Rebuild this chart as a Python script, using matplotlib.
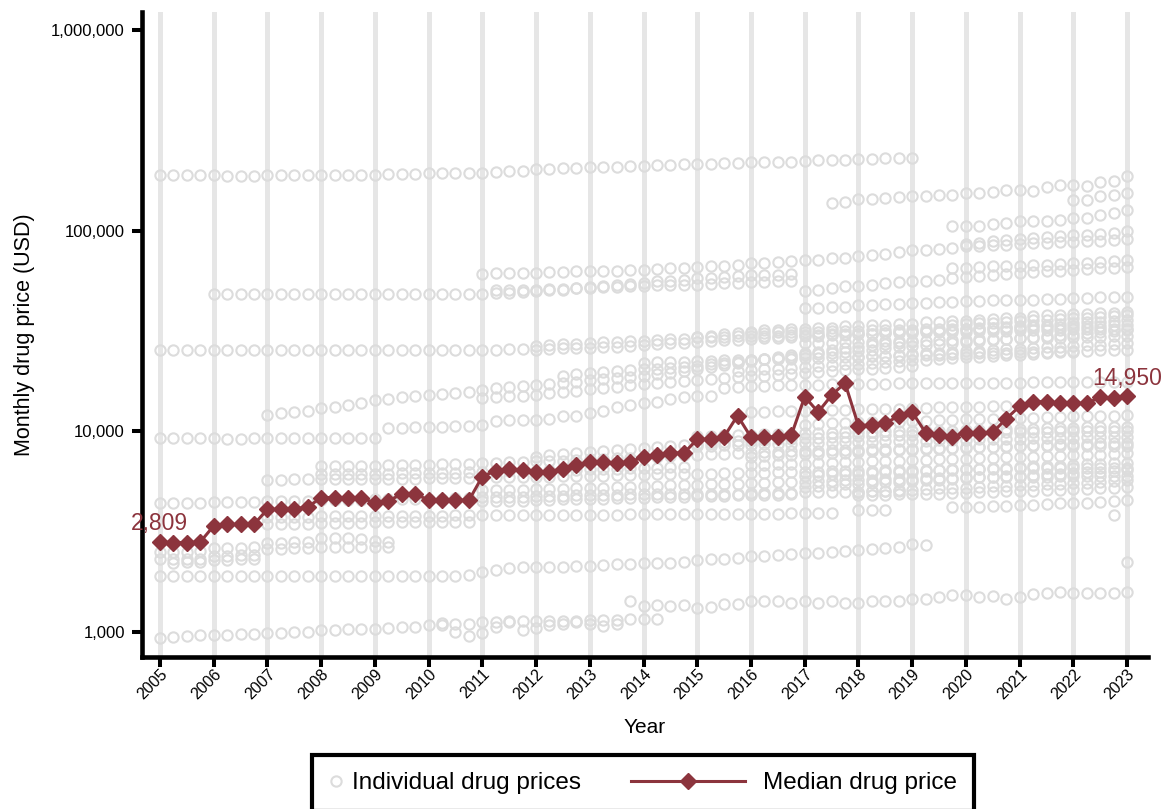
import numpy as np
import matplotlib
matplotlib.use("Agg")
import matplotlib.pyplot as plt
from matplotlib.lines import Line2D
from matplotlib.legend_handler import HandlerLine2D
from matplotlib.ticker import FixedLocator, FuncFormatter, NullLocator

plt.rcParams['font.family'] = ['Liberation Sans', 'DejaVu Sans']

# ---------------------------------------------------------------- data
years = list(range(2005, 2024))
quarters = np.arange(2005.0, 2023.01, 0.25)

# median monthly price across drugs on the market, per quarter (USD)
median_price = [2809, 2790, 2790, 2809,
                3380, 3440, 3440, 3440,
                4090, 4090, 4120, 4190,
                4680, 4680, 4680, 4680,
                4385, 4500, 4875, 4875,
                4550, 4550, 4550, 4530,
                5960, 6375, 6475, 6430,
                6300, 6300, 6525, 6775,
                7060, 7030, 6980, 7030,
                7485, 7635, 7840, 7785,
                9143, 9143, 9422, 11990,
                9357, 9357, 9422, 9560,
                14900, 12500, 15150, 17450,
                10680, 10780, 10990, 11950,
                12500, 9860, 9650, 9420,
                9860, 9860, 9900, 11570,
                13350, 14080, 14080, 13820,
                13820, 13820, 14810, 14640,
                14950]

# individual drugs: monthly price (thousand USD) for consecutive quarters
drug_01 = [190, 190, 190, 190, 190, 189, 189, 189, 190, 190, 190, 190, 191, 191, 191, 191,
           191, 192, 193, 193, 194, 194, 194, 194, 195, 197, 199, 200, 203, 204, 205, 206,
           208, 209, 209, 210, 212, 213, 214, 215, 216, 217, 218, 219, 220, 221, 222, 222,
           224, 225, 226, 226, 228, 229, 230, 230, 231]
drug_02 = [138, 139, 145, 145, 146, 148, 150, 150, 151, 152, 154, 155, 157, 160, 160, 158,
           166, 170, 170, 168, 176, 178, 187]
drug_03 = [106, 106, 106, 108, 109, 112, 112, 112, 113, 116, 116, 120, 123, 127]
drug_04 = [143, 143, 149, 151, 155]
drug_05 = [86, 87, 89, 90, 91, 92, 93, 94, 95, 96, 97, 98, 100]
drug_06 = [61, 61.5, 62, 62, 62, 62.5, 62.5, 63, 63, 63, 63.5, 64, 64, 64.5, 65, 65.5,
           66, 66.5, 67, 68, 69, 69.5, 70, 70.5, 71.5, 72, 73, 73.5, 75, 76, 77, 78.5,
           80, 80.5, 81, 82, 84, 84.5, 85, 85.5, 86, 87, 87.5, 88, 88.5, 89, 89.5, 90, 91]
drug_07 = [48.5, 48.5, 48.5, 48.5, 48.5, 48.7, 48.7, 48.5, 48.5, 48.5, 48.5, 48.5,
           48.5, 48.5, 48.5, 48.5, 48.5, 48.5, 48.5, 48.5, 48.5, 49, 49, 49.5,
           50, 50.5, 51, 52, 52.5, 53, 54, 54.5, 55, 56, 56.5, 57, 58, 58.5, 59, 59.5,
           60, 60, 60.5, 61]
drug_08 = [51, 51, 51, 51, 51.5, 51.5, 52, 52, 52.5, 52.5, 53, 53, 53.5, 53.5, 54,
           54, 54.5, 55, 55, 55.5, 55.5, 56, 56]
drug_09 = [50, 51, 52, 53, 53, 54, 55, 55.5, 56, 56.5, 57, 58, 59, 59.5, 60, 61,
           62, 62.5, 63, 63.5, 64, 64.5, 65, 65.5, 66]
drug_10 = [65, 65.5, 66, 66.5, 67, 67, 67.5, 68, 68.5, 69, 69.5, 70, 71, 72]
drug_11 = [41.5, 41.5, 42, 42, 42.5, 42.5, 43, 43, 43.5, 43.5, 44, 44, 44.5, 44.5, 45, 45,
           45.5, 45.5, 46, 46, 46.5, 46.5, 47, 47, 47]
drug_12 = [25.5, 25.5, 25.5, 25.5, 25.5, 25.5, 25.5, 25.5, 25.5, 25.5, 25.5, 25.5,
           25.5, 25.5, 25.5, 25.5, 25.5, 25.5, 25.5, 25.5, 25.5, 25.5, 25.5, 25.5,
           25.5, 25.5, 25.7, 25.7, 25.5, 25.8, 26, 26, 26.2, 26.5, 26.5, 26.8,
           27, 27.2, 27.5, 27.5, 28, 28.2, 28.5, 28.5, 29, 29.2, 29.4, 29.6,
           29.8, 30, 30.2, 30.4, 30.6, 30.8, 31, 31.2, 31.4, 31.6, 31.8, 32,
           32.3, 32.6, 32.9, 33.2, 33.5, 33.8, 34.1, 34.4, 34.7, 35, 35.3, 35.6, 36]
drug_13 = [26.8, 27, 27.2, 27.4, 27.6, 27.8, 28, 28.2, 28.4, 28.6, 28.8, 29,
           29.5, 30, 30.5, 31, 31.5, 32, 32, 32.5, 32.5, 33, 33, 33.5, 33.5, 34, 34, 34.5,
           34.5, 35, 35, 35.5, 35.5, 36, 36.5, 37, 37, 37.5, 38, 38, 38.5, 38.5, 39, 39, 39.5]
drug_14 = [22, 22.1, 22.2, 22.3, 22.4, 22.5, 22.6, 22.7, 22.8, 22.9, 23, 23.1,
           23.2, 23.3, 23.4, 23.5, 23.6, 23.7, 23.8, 23.9, 24, 24.1, 24.2, 24.3,
           24.4, 24.5, 24.6, 24.7, 24.8, 24.9, 25, 25.1, 25.2, 25.3, 25.4, 25.5, 25.5]
drug_15 = [29.5, 29.6, 29.7, 29.8, 29.9, 30, 30.1, 30.2, 30.3, 30.4, 30.5, 30.6,
           30.7, 30.8, 30.9, 31, 31.1, 31.2, 31.3, 31.4, 31.5, 31.6, 31.7, 31.8,
           31.9, 32, 32.1, 32.2, 32.3, 32.4, 32.4, 32.5, 32.5]
drug_16 = [20, 20.2, 20.4, 20.6, 20.8, 21, 21.2, 21.4, 21.6, 21.8, 22, 22.2, 22.4,
           22.6, 22.8, 23, 23.2, 23.4, 23.6, 23.8, 24, 24.2, 24.4, 24.6, 24.8, 25]
drug_17 = [31, 31.1, 31.2, 31.3, 31.4, 31.5, 31.6, 31.7, 31.8, 31.9, 32, 32.1,
           32.2, 32.3, 32.4, 32.5, 32.6, 32.7, 32.8, 32.9, 33, 33.1, 33.2, 33.3,
           33.4, 33.5, 33.6, 33.8, 34]
drug_18 = [27.5, 27.6, 27.7, 27.8, 27.9, 28, 28.1, 28.2, 28.3, 28.4, 28.5, 28.6,
           28.7, 28.8, 28.9, 29, 29.1, 29.2, 29.3, 29.4, 29.5, 29.6, 29.7, 29.8, 30]
drug_19 = [23.5, 23.7, 23.9, 24.1, 24.3, 24.5, 24.7, 24.9, 25.1, 25.3, 25.5, 25.7,
           25.9, 26.1, 26.3, 26.5, 26.7, 26.9, 27.1, 27.3, 27.5]
drug_20 = [34, 34.3, 34.6, 34.9, 35.2, 35.5, 35.8, 36.1, 36.4, 36.7, 37, 37.3, 37.6, 38]
drug_21 = [12.1, 12.3, 12.5, 12.7, 13.1, 13.3, 13.5, 13.8, 14.4, 14.6, 14.8, 15,
           15.2, 15.4, 15.6, 15.8, 16.1, 16.4, 16.6, 16.8, 17.1, 17.3, 17.5, 17.7,
           18, 18.2, 18.4, 18.7, 19, 19.3, 19.6, 20, 20.5, 21, 21.5, 22, 22.5, 23, 23.5, 24,
           24.5, 25, 25.5, 26, 26.5, 27, 27.3, 27.6, 28]
drug_22 = [14.7, 14.9, 15, 15.1, 15.2, 15.5, 15.8, 16, 16.2, 16.5, 16.7, 17,
           17.2, 17.4, 17.6, 17.8, 18, 18.2, 18.4, 18.6, 18.8, 19, 19.2, 19.4,
           19.6, 19.8, 20, 20.2, 20.4, 20.6, 20.8, 21, 21.2]
drug_23 = [19, 19.3, 19.6, 19.8, 20, 20.2, 20.4, 20.6, 20.8, 21, 21.3, 21.6, 22, 22.3,
           22.6, 23, 23.3, 23.6, 24, 24.3, 24.6, 25, 25.3, 25.6, 26, 26.3, 26.6, 27,
           27.3, 27.6, 28, 28.3, 28.6, 29, 29.3, 29.6, 30, 30.3, 30.6, 31, 31.3, 31.6, 32]
drug_24 = [9.25, 9.25, 9.25, 9.25, 9.25, 9.2, 9.2, 9.25, 9.25, 9.25, 9.3, 9.3,
           9.3, 9.3, 9.3, 9.3, 9.3, 10.4, 10.4, 10.5, 10.5, 10.5, 10.6, 10.6,
           10.8, 11.3, 11.4, 11.4, 11.4, 11.5, 11.9, 12, 12.4, 12.6, 13.3, 13.5,
           13.8, 14.1, 14.6, 14.8, 15, 15, 16.5, 16.6, 16.8, 16.9, 17, 17,
           17.1, 17.1, 17.2, 17.2, 17.3, 17.3, 17.3, 17.4, 17.4, 17.4, 17.4, 17.5,
           17.5, 17.5, 17.5, 17.5, 17.5, 17.6, 17.6, 17.6, 17.6, 17.6, 17.7, 17.7, 17.7]
drug_25 = [12.5, 12.5, 12.6, 12.6, 12.7, 12.7, 12.8, 12.8, 12.9, 12.9, 13, 13,
           13.1, 13.1, 13.2, 13.2, 13.3, 13.3, 13.4, 13.4]
drug_26 = [10.8, 10.9, 11, 11, 11.1, 11.1, 11.2, 11.2, 11.3, 11.3, 11.4, 11.4,
           11.5, 11.5, 11.6, 11.6, 11.7, 11.7, 11.8, 11.8, 11.9, 11.9, 12, 12, 12.1]
drug_27 = [9.5, 9.5, 9.6, 9.6, 9.6, 9.7, 9.7, 9.7, 9.8, 9.8, 9.8, 9.9, 9.9, 9.9, 10, 10,
           10, 10.1, 10.1, 10.1, 10.2, 10.2, 10.2, 10.3, 10.3, 10.3, 10.4, 10.4,
           10.4, 10.5, 10.5, 10.5, 10.5]
drug_28 = [8.5, 8.5, 8.55, 8.6, 8.6, 8.65, 8.7, 8.7, 8.75, 8.8, 8.8, 8.85, 8.9, 8.9, 8.95, 9,
           9, 9, 9.05, 9.1, 9.1, 9.15, 9.2, 9.2, 9.2, 9.25, 9.3, 9.3, 9.3, 9.35, 9.4, 9.4, 9.4]
drug_29 = [7.5, 7.55, 7.6, 7.65, 7.7, 7.75, 7.8, 7.85, 7.9, 7.95, 8, 8.05, 8.1, 8.15, 8.2,
           8.25, 8.3, 8.35, 8.4, 8.45, 8.5, 8.55, 8.6, 8.62, 8.65, 8.7, 8.72, 8.75, 8.8]
drug_30 = [6.8, 6.82, 6.85, 6.9, 6.92, 6.95, 7, 7.02, 7.05, 7.1, 7.12, 7.15, 7.2, 7.22,
           7.25, 7.3, 7.32, 7.35, 7.4, 7.42, 7.45, 7.5, 7.52, 7.55, 7.6, 7.62, 7.65, 7.7, 7.8]
drug_31 = [6, 6.05, 6.1, 6.1, 6.15, 6.2, 6.25, 6.3, 6.3, 6.35, 6.4, 6.45, 6.5, 6.5,
           6.55, 6.6, 6.65, 6.7, 6.7, 6.75, 6.8, 6.85, 6.9, 6.95, 7]
drug_32 = [5.3, 5.35, 5.4, 5.45, 5.5, 5.55, 5.6, 5.6, 5.65, 5.7, 5.75, 5.8, 5.85, 5.9,
           5.95, 6, 6, 6.05, 6.1, 6.15, 6.2, 6.25, 6.3, 6.35, 6.4]
drug_33 = [5, 5.02, 5.05, 5.1, 5.12, 5.15, 5.2, 5.22, 5.25, 5.3, 5.32, 5.35, 5.4, 5.42,
           5.45, 5.5, 5.52, 5.55, 5.6, 5.65, 5.7]
drug_34 = [4.8, 4.8, 4.82, 4.85, 4.85, 4.88, 4.9, 4.92, 4.95, 4.97, 5, 5.02, 5.05, 5.07,
           5.1, 5.12, 5.15, 5.18, 5.2, 5.25, 5.3]
drug_35 = [4.2, 4.2, 4.22, 4.25, 4.27, 4.3, 4.32, 4.35, 4.38, 4.4, 4.42, 4.45, 4.5, 4.55]
drug_36 = [3.83]
drug_37 = [4.06, 4.06, 4.06]
drug_38 = [4.4, 4.4, 4.4, 4.4, 4.45, 4.45, 4.45, 4.45, 4.5, 4.5, 4.5, 4.5,
           4.55, 4.55, 4.55, 4.55, 4.6, 4.6, 4.6, 4.6, 4.6, 4.6, 4.65, 4.65,
           4.7, 4.7, 4.7, 4.7, 4.75, 4.75, 4.75, 4.8, 4.8, 4.8, 4.8, 4.85,
           4.85, 4.85, 4.85, 4.9, 4.9, 4.9, 4.9, 4.9, 4.95, 4.95, 4.95, 4.95,
           5, 5, 5, 5, 5, 5.05, 5.05, 5.05]
drug_39 = [3.75, 3.75, 3.76, 3.76, 3.77, 3.77, 3.78, 3.78, 3.78, 3.79, 3.79, 3.8,
           3.8, 3.8, 3.81, 3.81, 3.82, 3.82, 3.82, 3.83, 3.83, 3.83, 3.84, 3.84,
           3.85, 3.85, 3.85, 3.86, 3.86, 3.86, 3.87, 3.87, 3.87, 3.88, 3.88, 3.88,
           3.89, 3.89, 3.89, 3.9, 3.9, 3.9, 3.9]
drug_40 = [2.809, 2.79, 2.79, 2.809, 3.38, 3.44, 3.44, 3.44, 3.45, 3.45, 3.47, 3.47,
           3.5, 3.5, 3.5, 3.5, 3.52, 3.52, 3.52, 3.52, 3.55, 3.55, 3.55, 3.55]
drug_41 = [2.5, 2.5, 2.5, 2.52, 2.62, 2.62, 2.62, 2.65, 2.78, 2.78, 2.8, 2.8,
           2.95, 2.95, 2.95, 2.92, 2.85, 2.82]
drug_42 = [2.3, 2.3, 2.32, 2.32, 2.4, 2.4, 2.42, 2.42, 2.6, 2.6, 2.62, 2.62,
           2.65, 2.65, 2.65, 2.66, 2.66, 2.66]
drug_43 = [2.22, 2.24, 2.24, 2.28, 2.28, 2.3, 2.3]
drug_44 = [1.9, 1.9, 1.9, 1.9, 1.9, 1.9, 1.9, 1.9, 1.91, 1.91, 1.91, 1.91,
           1.9, 1.9, 1.9, 1.9, 1.9, 1.9, 1.9, 1.9, 1.9, 1.9, 1.9, 1.92,
           2.0, 2.04, 2.08, 2.1, 2.1, 2.12, 2.12, 2.14, 2.14, 2.16, 2.18, 2.18,
           2.2, 2.2, 2.22, 2.24, 2.29, 2.3, 2.32, 2.34, 2.39, 2.4, 2.42, 2.44,
           2.47, 2.48, 2.5, 2.52, 2.57, 2.6, 2.62, 2.66, 2.75, 2.72]
drug_45 = [0.935, 0.94, 0.95, 0.96, 0.97, 0.97, 0.98, 0.98, 0.99, 0.99, 1.0, 1.0,
           1.02, 1.02, 1.03, 1.03, 1.04, 1.05, 1.06, 1.06, 1.08, 1.08, 1.09, 1.1,
           1.12, 1.12, 1.13, 1.13, 1.13, 1.14, 1.14, 1.14, 1.15, 1.15, 1.15, 1.16,
           1.16, 1.16]
drug_46 = [1.11, 1.0, 0.95, 0.99, 1.06, 1.12, 1.02, 1.05, 1.08, 1.1, 1.12, 1.1, 1.07, 1.09]
drug_47 = [1.42, 1.34, 1.36, 1.34, 1.36, 1.31, 1.33, 1.38, 1.38, 1.42, 1.42, 1.42, 1.4,
           1.42, 1.4, 1.42, 1.4, 1.4, 1.43, 1.42, 1.43, 1.46, 1.46, 1.49, 1.53,
           1.53, 1.49, 1.51, 1.46, 1.49, 1.55, 1.56, 1.59, 1.57, 1.57, 1.56, 1.57, 1.59]
drug_48 = [2.24]
drug_49 = [5.75, 5.75, 5.76, 5.76, 5.77, 5.77, 5.78, 5.78, 5.8, 5.8, 5.82, 5.82,
           5.84, 5.85, 5.86, 5.87, 5.88, 5.9, 5.92, 5.93, 5.95, 5.96, 5.98, 6.0,
           6.02, 6.03, 6.05, 6.07, 6.08, 6.1, 6.12, 6.14, 6.15, 6.17, 6.19, 6.2,
           6.22, 6.24, 6.26, 6.28, 6.3, 6.31, 6.33, 6.35, 6.36, 6.38, 6.4, 6.41,
           6.43, 6.44, 6.46, 6.48, 6.5, 6.51, 6.52, 6.53, 6.54, 6.55, 6.56, 6.57,
           6.58, 6.59, 6.6, 6.6, 6.6]
drug_50 = [6.7, 6.7, 6.72, 6.74, 6.76, 6.78, 6.8, 6.82, 6.84, 6.86, 6.88, 6.9,
           6.95, 7, 7.02, 7.05, 7.1, 7.12, 7.15, 7.2, 7.25, 7.3, 7.35, 7.4,
           7.45, 7.5, 7.55, 7.6, 7.65, 7.7, 7.75, 7.8, 7.85, 7.9, 7.92, 7.95,
           8, 8.02, 8.05, 8.1, 8.12, 8.15, 8.18, 8.2, 8.22, 8.25, 8.28, 8.3,
           8.32, 8.35, 8.38, 8.4, 8.42, 8.44, 8.45, 8.46, 8.47, 8.48, 8.49, 8.5, 8.5]
drug_51 = [6.1, 6.1, 6.12, 6.12, 6.15, 6.15, 6.18, 6.18, 6.2, 6.2, 6.22, 6.25,
           6.3, 6.3, 6.32, 6.35, 6.38, 6.4, 6.42, 6.45, 6.48, 6.5, 6.52, 6.55,
           6.58, 6.6, 6.62, 6.65]
drug_52 = [5.1, 5.1, 5.12, 5.12, 5.15, 5.15, 5.18, 5.2, 5.22, 5.25, 5.28, 5.3,
           5.32, 5.35, 5.38, 5.4, 5.42, 5.45, 5.48, 5.5, 5.52, 5.55, 5.58, 5.6,
           5.62, 5.65, 5.68, 5.7, 5.72, 5.75, 5.78, 5.8, 5.82, 5.84, 5.86, 5.88,
           5.9, 5.91, 5.92, 5.93, 5.94, 5.95, 5.96, 5.97, 5.98, 5.99, 6, 6, 6]
drug_53 = [4.5, 4.5, 4.52, 4.52, 4.55, 4.55, 4.58, 4.6, 4.6, 4.62, 4.65, 4.65,
           4.68, 4.7, 4.7, 4.72, 4.75, 4.75, 4.78, 4.8, 4.8, 4.82, 4.82, 4.85]
drug_54 = [7.5, 7.6, 7.7, 7.8, 7.9, 8, 8.1, 8.2, 8.3, 8.4, 8.5, 8.6, 8.7, 8.8, 8.9, 9,
           9, 9.1, 9.2, 9.2, 9.3, 9.3, 9.4, 9.4, 9.5, 9.5, 9.6, 9.6, 9.6, 9.7, 9.7, 9.7,
           9.8, 9.8, 9.8, 9.9, 9.9, 9.9, 9.9, 10, 10, 10, 10, 10, 10]

# first quarter on the market for each drug
drug_series = [
    (2005.0, drug_01), (2017.5, drug_02), (2019.75, drug_03), (2022.0, drug_04),
    (2020.0, drug_05), (2011.0, drug_06), (2006.0, drug_07), (2011.25, drug_08),
    (2017.0, drug_09), (2019.75, drug_10), (2017.0, drug_11), (2005.0, drug_12),
    (2012.0, drug_13), (2014.0, drug_14), (2015.0, drug_15), (2015.75, drug_16),
    (2016.0, drug_17), (2017.0, drug_18), (2018.0, drug_19), (2019.75, drug_20),
    (2007.0, drug_21), (2011.0, drug_22), (2012.5, drug_23), (2005.0, drug_24),
    (2016.0, drug_25), (2017.0, drug_26), (2015.0, drug_27), (2015.0, drug_28),
    (2016.0, drug_29), (2016.0, drug_30), (2017.0, drug_31), (2017.0, drug_32),
    (2018.0, drug_33), (2018.0, drug_34), (2019.75, drug_35), (2022.75, drug_36),
    (2018.0, drug_37), (2005.0, drug_38), (2007.0, drug_39), (2005.0, drug_40),
    (2005.0, drug_41), (2005.0, drug_42), (2005.25, drug_43), (2005.0, drug_44),
    (2005.0, drug_45), (2010.25, drug_46), (2013.75, drug_47), (2023.0, drug_48),
    (2007.0, drug_49), (2008.0, drug_50), (2008.0, drug_51), (2011.0, drug_52),
    (2011.0, drug_53), (2012.0, drug_54),
]

# ---------------------------------------------------------------- style
RED = '#8C343D'
DOT = '#DCDCDC'
GRID = '#E6E6E6'


class MedianKeyHandler(HandlerLine2D):
    """Legend key: a long line with a single diamond in its middle."""

    def create_artists(self, legend, orig_handle, xdescent, ydescent,
                       width, height, fontsize, trans):
        y = height / 2 - ydescent
        x0 = -xdescent - 4.48 * fontsize
        x1 = -xdescent + 0.21 * fontsize
        line = Line2D([x0, x1], [y, y])
        self.update_prop(line, orig_handle, legend)
        line.set_marker('None')
        mark = Line2D([(x0 + x1) / 2], [y])
        self.update_prop(mark, orig_handle, legend)
        mark.set_linestyle('None')
        line.set_transform(trans)
        mark.set_transform(trans)
        return [line, mark]


fig = plt.figure(figsize=(11.64, 8.09), dpi=100)
ax = fig.add_axes([0.1217, 0.1879, 0.8646, 0.7973])

# individual drug prices
xs, ys = [], []
for start, prices in drug_series:
    for i, p in enumerate(prices):
        xs.append(start + 0.25 * i)
        ys.append(p * 1000)
ax.plot(xs, ys, linestyle='none', marker='o', ms=7.4, mfc='none',
        mec=DOT, mew=1.5, zorder=2)

# median line
ax.plot(quarters, median_price, color=RED, lw=2.2, marker='D', ms=7.8,
        mec=RED, mfc=RED, zorder=3)

for idx in (0, len(median_price) - 1):
    ax.annotate(f"{median_price[idx]:,}", (quarters[idx], median_price[idx]),
                xytext=(0, 5), textcoords='offset points', ha='center',
                va='bottom', color=RED, fontsize=16.5, annotation_clip=False,
                zorder=6)

# axes
ax.set_yscale('log')
ax.set_ylim(750, 1.237e6)
ax.set_xlim(2004.66, 2023.39)
ax.yaxis.set_major_locator(FixedLocator([1e3, 1e4, 1e5, 1e6]))
ax.yaxis.set_minor_locator(NullLocator())
ax.yaxis.set_major_formatter(FuncFormatter(lambda v, p: f"{int(round(v)):,}"))
ax.set_xticks(years)
ax.set_xticklabels([str(y) for y in years], rotation=45, ha='right',
                   va='top', rotation_mode='anchor')
ax.xaxis.grid(True, color=GRID, linewidth=3.6)
ax.set_axisbelow(True)

for s in ('top', 'right'):
    ax.spines[s].set_visible(False)
for s in ('left', 'bottom'):
    ax.spines[s].set_linewidth(3.3)
ax.tick_params(axis='both', which='major', length=7, width=2.9,
               color='black')
ax.tick_params(axis='y', labelsize=12, pad=5)
ax.tick_params(axis='x', labelsize=11.5, pad=0)
ax.set_xlabel('Year', fontsize=15, labelpad=11)
ax.set_ylabel('Monthly drug price (USD)', fontsize=15.5, labelpad=12)

# legend
ind_handle = Line2D([], [], linestyle='none', marker='o', ms=7.4, mfc='none',
                    mec=DOT, mew=1.5)
med_handle = Line2D([], [], color=RED, lw=2.2, marker='D', ms=7.8,
                    mec=RED, mfc=RED)
leg = fig.legend([ind_handle, med_handle],
                 ['Individual drug prices', 'Median drug price'],
                 loc='upper left', bbox_to_anchor=(312 / 1164, 54 / 809),
                 ncol=2, fontsize=17.5, frameon=True, fancybox=False,
                 framealpha=1, edgecolor='black', borderpad=0.7,
                 handlelength=0.6, handletextpad=0.35, columnspacing=6.54,
                 borderaxespad=0,
                 handler_map={med_handle: MedianKeyHandler()})
leg.get_frame().set_linewidth(3)

fig.savefig('out.png', dpi=100)
